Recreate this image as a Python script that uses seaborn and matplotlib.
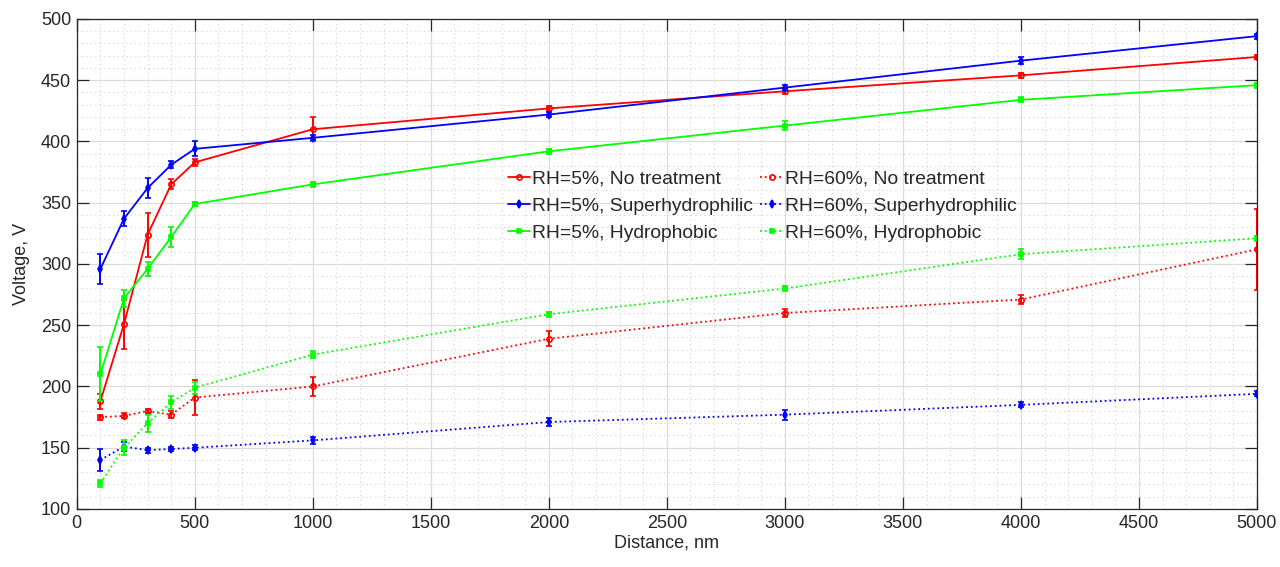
import matplotlib
matplotlib.use("Agg")
import matplotlib.pyplot as plt
import seaborn as sns
import numpy as np
from matplotlib.ticker import MultipleLocator

distance = [100, 200, 300, 400, 500, 1000, 2000, 3000, 4000, 5000]

rh5_none = [188, 251, 324, 365, 383, 410, 427, 441, 454, 469]
rh5_none_err = [6, 20, 18, 4, 3, 10, 2, 2, 2, 2]
rh5_super = [296, 337, 362, 381, 394, 403, 422, 444, 466, 486]
rh5_super_err = [12, 6, 8, 3, 6, 2, 2, 2, 3, 2]
rh5_hydro = [210, 272, 296, 322, 349, 365, 392, 413, 434, 446]
rh5_hydro_err = [22, 7, 6, 8, 2, 2, 2, 4, 2, 2]
rh60_none = [175, 176, 180, 177, 191, 200, 239, 260, 271, 312]
rh60_none_err = [2, 2, 2, 3, 14, 8, 6, 3, 4, 33]
rh60_super = [140, 151, 148, 149, 150, 156, 171, 177, 185, 194]
rh60_super_err = [9, 4, 2, 2, 2, 3, 3, 4, 2, 2]
rh60_hydro = [121, 150, 170, 187, 199, 226, 259, 280, 308, 321]
rh60_hydro_err = [3, 6, 7, 5, 5, 3, 2, 2, 4, 2]

labels = ["RH=5%, No treatment", "RH=5%, Superhydrophilic", "RH=5%, Hydrophobic",
          "RH=60%, No treatment", "RH=60%, Superhydrophilic", "RH=60%, Hydrophobic"]

sns.set_style("ticks")
plt.rcParams['font.family'] = ['Liberation Sans', 'DejaVu Sans']

fig, ax = plt.subplots(figsize=(12.8, 5.67), dpi=100)
fig.subplots_adjust(left=0.060, right=0.982, top=0.9665, bottom=0.1023)

series = [
    (rh5_none, rh5_none_err, "#ff0000", "-", "o", "none", 3.8),
    (rh5_super, rh5_super_err, "#0000ff", "-", "d", "#0000ff", 3.6),
    (rh5_hydro, rh5_hydro_err, "#00ff00", "-", "s", "#00ff00", 3.2),
    (rh60_none, rh60_none_err, "#ff0000", ":", "o", "none", 3.8),
    (rh60_super, rh60_super_err, "#0000ff", ":", "d", "#0000ff", 3.6),
    (rh60_hydro, rh60_hydro_err, "#00ff00", ":", "s", "#00ff00", 3.2),
]

for (vals, errs, col, ls, mk, mfc, ms), lab in zip(series, labels):
    sns.lineplot(x=distance, y=vals, ax=ax, color=col, linestyle=ls, marker=mk,
                 markersize=ms, markerfacecolor=mfc, markeredgecolor=col,
                 markeredgewidth=1.2, linewidth=1.3, label=lab, sort=False)
    ax.errorbar(distance, vals, yerr=errs, fmt="none", ecolor=col,
                elinewidth=1.4, capsize=2.5, capthick=1.2)

ax.set_xlim(0, 5000)
ax.set_ylim(100, 500)
ax.xaxis.set_major_locator(MultipleLocator(500))
ax.xaxis.set_minor_locator(MultipleLocator(100))
ax.yaxis.set_major_locator(MultipleLocator(50))
ax.yaxis.set_minor_locator(MultipleLocator(10))
ax.grid(which="major", color="#dcdcdc", linewidth=0.9, linestyle="-")
ax.grid(which="minor", color="#d0d0d0", linewidth=0.8, linestyle=(0, (1, 3)))
ax.set_axisbelow(True)

for s in ax.spines.values():
    s.set_visible(True)
    s.set_color("#262626")
    s.set_linewidth(0.9)
ax.tick_params(which="major", direction="in", length=8.5, width=0.9,
               top=True, right=True, labelsize=13, colors="#262626", pad=4)
ax.tick_params(which="minor", length=0, top=True, right=True)

ax.set_xlabel("Distance, nm", fontsize=13, color="#262626", labelpad=2)
ax.set_ylabel("Voltage, V", fontsize=13, color="#262626", labelpad=8)

ax.legend(ncol=2, frameon=False, loc="upper left", bbox_to_anchor=(0.365, 0.692),
          borderaxespad=0, borderpad=0, fontsize=13.9, handlelength=1.15,
          handletextpad=0.1, columnspacing=0.4, labelspacing=0.5)

fig.savefig("out.png", dpi=100)
